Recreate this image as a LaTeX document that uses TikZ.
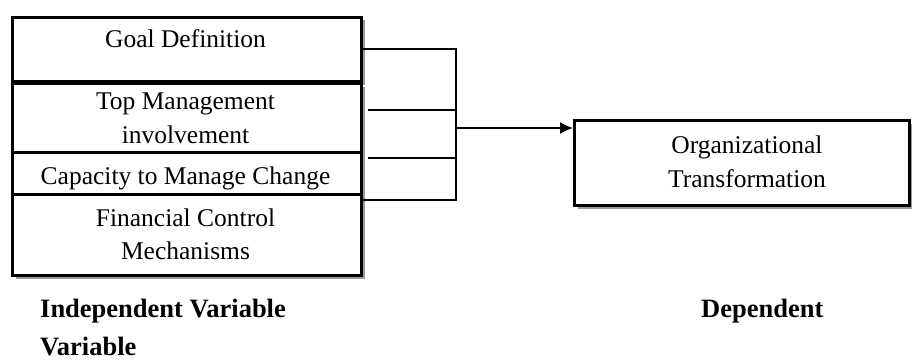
\documentclass[tikz,border=0pt]{standalone}
\usepackage{fontspec}
\setmainfont{Liberation Serif}
\usetikzlibrary{arrows.meta,shadows}
\begin{document}
\begin{tikzpicture}[x=1pt,y=-1pt,
  box/.style={draw=black,line width=3pt,fill=white,rectangle,inner sep=0pt,anchor=north west,
    drop shadow={shadow xshift=3pt,shadow yshift=-3pt,fill=black!40,opacity=1}},
  txt/.style={font=\fontsize{25.5}{30}\selectfont,anchor=base,inner sep=0pt},
  lbl/.style={font=\fontsize{26.5}{32}\selectfont\bfseries,anchor=base west,inner sep=0pt},
  conn/.style={line width=1.7pt,line cap=rect}]
\useasboundingbox (0,0) rectangle (912,361);
% left boxes
\node[box,minimum width=349pt,minimum height=64pt] (g) at (11,16) {};
\node[box,minimum width=349pt,minimum height=69pt] (t) at (11,82) {};
\node[box,minimum width=349pt,minimum height=42pt] (c) at (11,151) {};
\node[box,minimum width=349pt,minimum height=81pt] (f) at (11,193) {};
% right box
\node[box,minimum width=335pt,minimum height=85pt] (o) at (573,119) {};
% texts
\node[txt] (gt) at (185.5,48) {Goal Definition};
\node[txt] (tt1) at (185.5,109) {Top Management};
\node[txt] (tt2) at (185.5,143) {involvement};
\node[txt] (ct) at (185.5,184) {Capacity to Manage Change};
\node[txt] (ft1) at (185.5,226) {Financial Control};
\node[txt] (ft2) at (185.5,259) {Mechanisms};
\node[txt] (ot1) at (747,153) {Organizational};
\node[txt] (ot2) at (747,187) {Transformation};
% labels
\node[lbl] (iv1) at (40,317) {Independent Variable};
\node[lbl] (iv2) at (40,355) {Variable};
\node[lbl] (dv) at (701,317) {Dependent};
% connectors
\coordinate (b1) at (456,49);
\coordinate (b4) at (456,200);
\coordinate (s2) at (369,110);
\coordinate (s3) at (369,158);
\coordinate (j) at (456,128);
\draw[conn] (g.east |- b1) -- (b1) -- (b4) -- (f.east |- b4);
\draw[conn] (s2) -- (s2 -| j);
\draw[conn] (s3) -- (s3 -| j);
\draw[conn,-{Latex[length=13pt,width=12pt]}] (j) -- (o.west |- j);
\end{tikzpicture}
\end{document}
